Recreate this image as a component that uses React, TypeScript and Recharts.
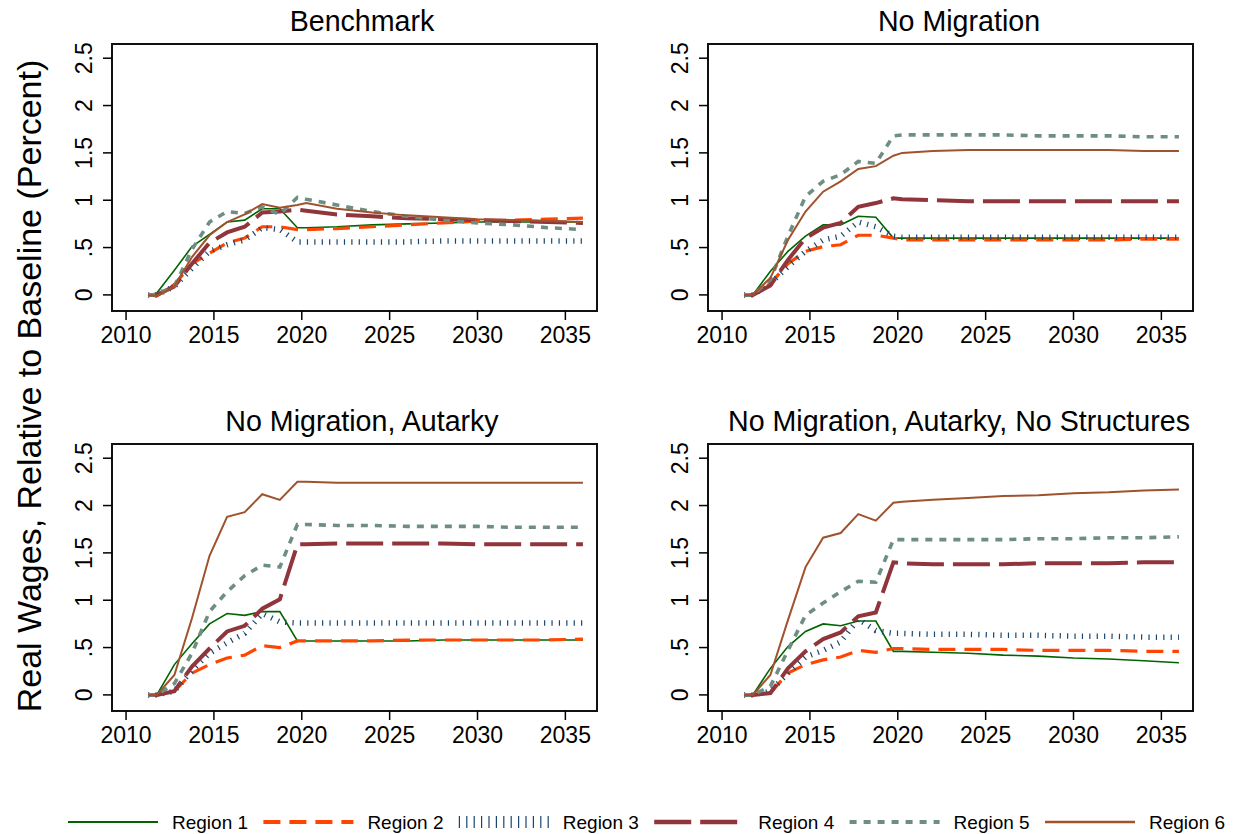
import React from 'react';
import { LineChart, Line, XAxis, YAxis, ReferenceArea } from 'recharts';

const years = [2011.25, 2011.75, 2012.75, 2013.75, 2014.75, 2015.75, 2016.75, 2017.75, 2018.75, 2019.75, 2020.25, 2022, 2024, 2026, 2028, 2030, 2032, 2034, 2036];

const regions = ['Region 1', 'Region 2', 'Region 3', 'Region 4', 'Region 5', 'Region 6'];

// one row per region, values in percent
const benchmark = [
  [0, 0.02, 0.26, 0.51, 0.64, 0.77, 0.79, 0.91, 0.91, 0.71, 0.71, 0.72, 0.74, 0.75, 0.76, 0.77, 0.77, 0.77, 0.77],
  [0, -0.01, 0.11, 0.33, 0.44, 0.55, 0.6, 0.72, 0.72, 0.69, 0.69, 0.7, 0.72, 0.74, 0.76, 0.78, 0.79, 0.8, 0.81],
  [0, 0, 0.09, 0.28, 0.46, 0.53, 0.58, 0.71, 0.69, 0.56, 0.56, 0.56, 0.56, 0.56, 0.57, 0.57, 0.57, 0.57, 0.57],
  [0, 0, 0.09, 0.33, 0.55, 0.66, 0.72, 0.87, 0.88, 0.9, 0.89, 0.85, 0.83, 0.81, 0.8, 0.79, 0.78, 0.77, 0.76],
  [0, 0, 0.09, 0.48, 0.77, 0.88, 0.86, 0.93, 0.85, 1.03, 1.01, 0.95, 0.88, 0.83, 0.79, 0.76, 0.74, 0.71, 0.69],
  [0, -0.01, 0.09, 0.4, 0.63, 0.77, 0.85, 0.96, 0.92, 0.95, 0.97, 0.91, 0.87, 0.84, 0.82, 0.8, 0.79, 0.78, 0.77],
];

const noMigration = [
  [0, 0, 0.25, 0.46, 0.62, 0.74, 0.74, 0.83, 0.82, 0.6, 0.6, 0.6, 0.6, 0.6, 0.6, 0.6, 0.6, 0.6, 0.6],
  [0, 0, 0.12, 0.33, 0.46, 0.51, 0.53, 0.63, 0.63, 0.6, 0.58, 0.58, 0.58, 0.58, 0.58, 0.58, 0.58, 0.59, 0.59],
  [0, 0, 0.12, 0.3, 0.46, 0.58, 0.62, 0.77, 0.72, 0.62, 0.61, 0.61, 0.61, 0.61, 0.61, 0.61, 0.61, 0.61, 0.61],
  [0, 0, 0.1, 0.37, 0.6, 0.71, 0.76, 0.93, 0.97, 1.02, 1.01, 1.0, 0.99, 0.99, 0.99, 0.99, 0.99, 0.99, 0.99],
  [0, 0, 0.16, 0.62, 1.04, 1.2, 1.27, 1.41, 1.39, 1.68, 1.69, 1.69, 1.69, 1.69, 1.68, 1.68, 1.68, 1.67, 1.67],
  [0, 0, 0.18, 0.58, 0.88, 1.09, 1.2, 1.33, 1.36, 1.47, 1.5, 1.52, 1.53, 1.53, 1.53, 1.53, 1.53, 1.52, 1.52],
];

const noMigrationAutarky = [
  [0, 0, 0.32, 0.54, 0.75, 0.86, 0.84, 0.88, 0.88, 0.57, 0.57, 0.57, 0.57, 0.57, 0.58, 0.58, 0.58, 0.58, 0.58],
  [0, 0, 0.04, 0.23, 0.32, 0.39, 0.42, 0.52, 0.5, 0.57, 0.57, 0.57, 0.57, 0.58, 0.58, 0.58, 0.58, 0.58, 0.59],
  [0, 0, 0.04, 0.26, 0.44, 0.55, 0.65, 0.86, 0.77, 0.76, 0.76, 0.76, 0.76, 0.76, 0.76, 0.76, 0.76, 0.76, 0.76],
  [0, 0, 0.04, 0.3, 0.49, 0.67, 0.73, 0.91, 1.01, 1.59, 1.59, 1.6, 1.6, 1.6, 1.6, 1.59, 1.59, 1.59, 1.59],
  [0, 0, 0.12, 0.44, 0.88, 1.09, 1.26, 1.37, 1.35, 1.8, 1.8, 1.79, 1.79, 1.78, 1.78, 1.78, 1.77, 1.77, 1.77],
  [0, 0, 0.21, 0.81, 1.47, 1.88, 1.93, 2.12, 2.06, 2.25, 2.25, 2.24, 2.24, 2.24, 2.24, 2.24, 2.24, 2.24, 2.24],
];

const noStructures = [
  [0, 0, 0.28, 0.51, 0.67, 0.75, 0.73, 0.78, 0.78, 0.46, 0.46, 0.45, 0.44, 0.42, 0.41, 0.39, 0.38, 0.36, 0.34],
  [0, 0, 0.02, 0.23, 0.32, 0.37, 0.4, 0.47, 0.45, 0.49, 0.49, 0.48, 0.48, 0.48, 0.47, 0.47, 0.47, 0.46, 0.46],
  [0, 0, 0.04, 0.23, 0.4, 0.47, 0.56, 0.8, 0.68, 0.65, 0.65, 0.64, 0.64, 0.63, 0.63, 0.62, 0.62, 0.61, 0.61],
  [0, 0, 0.02, 0.28, 0.46, 0.59, 0.66, 0.83, 0.87, 1.4, 1.39, 1.38, 1.38, 1.38, 1.39, 1.39, 1.39, 1.4, 1.4],
  [0, 0, 0.09, 0.47, 0.84, 0.97, 1.09, 1.2, 1.19, 1.64, 1.64, 1.64, 1.64, 1.64, 1.65, 1.65, 1.66, 1.66, 1.67],
  [0, 0, 0.21, 0.79, 1.35, 1.66, 1.71, 1.91, 1.84, 2.03, 2.04, 2.06, 2.08, 2.1, 2.11, 2.13, 2.14, 2.16, 2.17],
];

const panelTitles = ['Benchmark', 'No Migration', 'No Migration, Autarky', 'No Migration, Autarky, No Structures'];
const panelSeries = [benchmark, noMigration, noMigrationAutarky, noStructures];

const xTicks = [2010, 2015, 2020, 2025, 2030, 2035];
const yTicks = [0, 0.5, 1, 1.5, 2, 2.5];
const yTickLabels = ['0', '.5', '1', '1.5', '2', '2.5'];

const colors = ['#006400', '#ff4500', '#1a476f', '#90353b', '#6e8e84', '#a0522d'];
const widths = [1.6, 3.2, 5.5, 4, 3.6, 2];
const dashes = [undefined, '17 9', '1.2 6.2', '37 9', '7 7', undefined];

const FONT = '"Liberation Sans", Arial, Helvetica, sans-serif';
const X_DOMAIN = [2009.2, 2036.8];
const Y_DOMAIN = [-0.17, 2.65];

// plot box corners for the four panels
const boxLeft = [112, 708, 112, 708];
const boxTop = [44, 44, 444, 444];

const YTick = ({ x, y, payload }: any) => {
  const i = yTicks.indexOf(payload.value);
  return (
    <text x={x} y={y} transform={`rotate(-90 ${x} ${y})`} textAnchor="middle" fontSize={23} fill="#000" fontFamily={FONT}>
      {i >= 0 ? yTickLabels[i] : payload.value}
    </text>
  );
};

function Panel({ idx }: { idx: number }) {
  const series = panelSeries[idx];
  const data = years.map((x, i) => {
    const row: any = { x };
    series.forEach((s, k) => { row['r' + k] = s[i]; });
    return row;
  });
  return (
    <div style={{ position: 'absolute', left: boxLeft[idx] - 112, top: boxTop[idx] - 44 }}>
      <LineChart width={613} height={361} data={data} margin={{ top: 44, right: 16, bottom: 5, left: 0 }}>
        <XAxis
          type="number"
          dataKey="x"
          domain={X_DOMAIN}
          ticks={xTicks}
          allowDataOverflow
          height={45}
          axisLine={false}
          tickSize={9}
          tickMargin={7}
          tickLine={{ stroke: '#000', strokeWidth: 1.5 }}
          tick={{ fontSize: 23, fill: '#000', fontFamily: FONT }}
        />
        <YAxis
          type="number"
          domain={Y_DOMAIN}
          ticks={yTicks}
          allowDataOverflow
          width={112}
          axisLine={false}
          tickSize={9}
          tickMargin={11}
          tickLine={{ stroke: '#000', strokeWidth: 1.5 }}
          tick={<YTick />}
        />
        {regions.map((r, k) => (
          <Line
            key={r}
            type="linear"
            dataKey={'r' + k}
            name={r}
            stroke={colors[k]}
            strokeWidth={widths[k]}
            strokeDasharray={dashes[k]}
            dot={false}
            isAnimationActive={false}
          />
        ))}
        <ReferenceArea
          x1={X_DOMAIN[0]}
          x2={X_DOMAIN[1]}
          y1={Y_DOMAIN[0]}
          y2={Y_DOMAIN[1]}
          fill="none"
          fillOpacity={0}
          stroke="#111"
          strokeWidth={2}
        />
      </LineChart>
    </div>
  );
}

export default function App() {
  const titleX = [362, 959, 362, 959];
  const titleY = [31, 31, 431, 431];
  return (
    <div style={{ position: 'absolute', left: 0, top: 0, width: 1238, height: 834, background: '#fff', fontFamily: FONT }}>
      {panelTitles.map((_, i) => <Panel key={i} idx={i} />)}
      <svg width={1238} height={834} style={{ position: 'absolute', left: 0, top: 0, pointerEvents: 'none' }}>
        {panelTitles.map((t, i) => (
          <text key={t} x={titleX[i]} y={titleY[i]} textAnchor="middle" fontSize={28.6} fill="#000" fontFamily={FONT}>{t}</text>
        ))}
        <text x={41} y={386} transform="rotate(-90 41 386)" textAnchor="middle" fontSize={34} fill="#000" fontFamily={FONT}>
          Real Wages, Relative to Baseline (Percent)
        </text>
        {regions.map((r, k) => {
          const x0 = 68 + k * 195.4;
          return (
            <g key={r}>
              <line x1={x0} x2={x0 + 90} y1={822} y2={822} stroke={colors[k]} strokeWidth={k === 2 ? 12 : widths[k] + 0.6} strokeDasharray={dashes[k]} />
              <text x={x0 + 104} y={829} fontSize={19} fill="#000" fontFamily={FONT}>{r}</text>
            </g>
          );
        })}
      </svg>
    </div>
  );
}
